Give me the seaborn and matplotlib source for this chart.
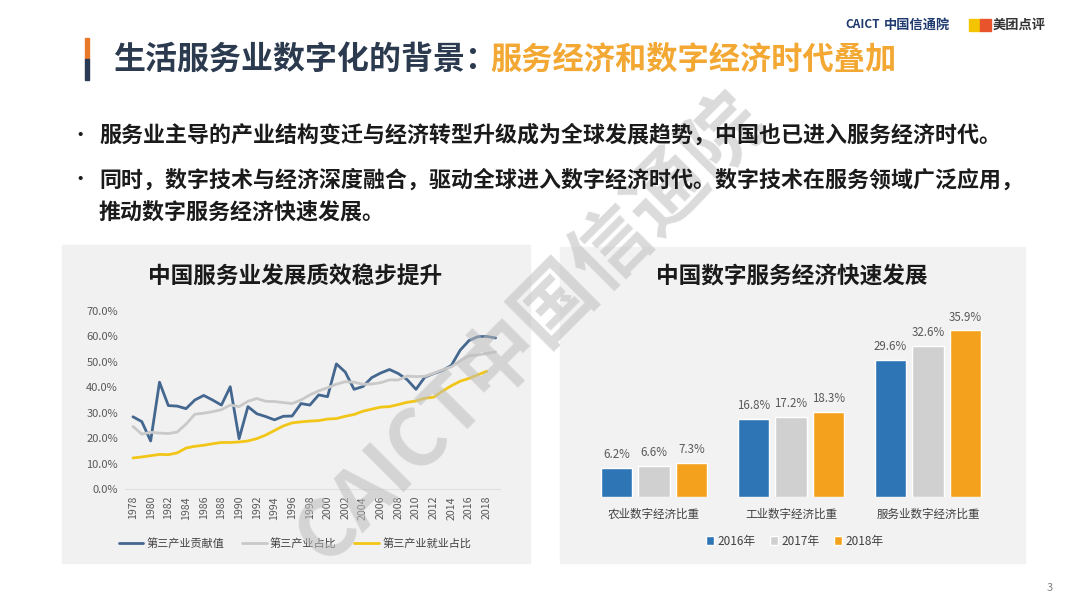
import pandas as pd
import matplotlib.pyplot as plt
import seaborn as sns
from matplotlib.patches import Rectangle
from matplotlib.ticker import PercentFormatter

sns.set_style('white')
plt.rcParams['font.family'] = ['Noto Sans CJK SC', 'DejaVu Sans']

#Left chart data (percent)
years = list(range(1978, 2020))
contribution = [28.4, 26.5, 18.9, 42.0, 32.8, 32.6, 31.6, 35.0, 36.8, 35.0, 33.0, 40.2, 19.8, 32.4,
                29.6, 28.5, 27.2, 28.6, 28.7, 33.6, 33.0, 37.0, 36.3, 49.2, 46.0, 39.2, 40.3, 43.8,
                45.6, 47.0, 45.4, 43.0, 39.2, 44.0, 45.4, 46.6, 48.6, 54.6, 58.4, 59.9, 60.0, 59.4]
share = [24.6, 21.6, 22.3, 22.0, 21.8, 22.4, 25.5, 29.4, 29.8, 30.4, 31.2, 33.0, 32.4, 34.5,
         35.6, 34.5, 34.4, 34.0, 33.6, 35.0, 37.0, 38.6, 39.8, 41.2, 42.2, 42.0, 41.2, 41.3,
         41.8, 42.9, 42.9, 44.4, 44.2, 44.3, 45.5, 46.9, 48.0, 50.5, 52.4, 52.7, 53.3, 53.9]
employment = [12.2, 12.6, 13.1, 13.6, 13.5, 14.2, 16.1, 16.8, 17.2, 17.8, 18.3, 18.3, 18.5, 18.9,
              19.8, 21.2, 23.0, 24.8, 26.0, 26.4, 26.7, 26.9, 27.5, 27.7, 28.6, 29.3, 30.6, 31.4,
              32.2, 32.4, 33.2, 34.1, 34.6, 35.7, 36.1, 38.5, 40.6, 42.4, 43.5, 44.9, 46.3]
line_names = ['第三产业贡献值', '第三产业占比', '第三产业就业占比']

#Right chart data (percent)
categories = ['农业数字经济比重', '工业数字经济比重', '服务业数字经济比重']
bar_years = ['2016年', '2017年', '2018年']
v2016 = [6.2, 16.8, 29.6]
v2017 = [6.6, 17.2, 32.6]
v2018 = [7.3, 18.3, 35.9]

W, H = 1080, 608
fig = plt.figure(figsize=(W / 100, H / 100), dpi=100)
fig.patch.set_facecolor('white')

def fx(px):
    return px / W

def fy(py):
    return 1 - py / H

#Header
fig.patches.append(Rectangle((fx(85), fy(59)), fx(4), 21 / H, transform=fig.transFigure, color='#e8792b'))
fig.patches.append(Rectangle((fx(85), fy(80)), fx(4), 21 / H, transform=fig.transFigure, color='#2b3a55'))
fig.text(fx(113), fy(60), '生活服务业数字化的背景：', fontsize=23, weight='bold', color='#2b3a4e', va='center')
fig.text(fx(490), fy(60), '服务经济和数字经济时代叠加', fontsize=22.5, weight='bold', color='#f2a833', va='center')

fig.text(fx(845), fy(25), 'CAICT', fontsize=8.5, weight='bold', color='#1f3a6e', va='center')
fig.text(fx(884), fy(25), '中国信通院', fontsize=9.5, weight='bold', color='#1f3a6e', va='center')
fig.patches.append(Rectangle((fx(969), fy(31)), fx(11), 12 / H, transform=fig.transFigure, color='#f5c400'))
fig.patches.append(Rectangle((fx(980), fy(31)), fx(11), 12 / H, transform=fig.transFigure, color='#e8552c'))
fig.text(fx(993), fy(25), '美团点评', fontsize=9.5, weight='bold', color='#333333', va='center')

#Bullets
bullets = [(135, '服务业主导的产业结构变迁与经济转型升级成为全球发展趋势，中国也已进入服务经济时代。'),
           (180, '同时，数字技术与经济深度融合，驱动全球进入数字经济时代。数字技术在服务领域广泛应用，')]
for y, txt in bullets:
    fig.text(fx(70), fy(y), '•', fontsize=14, color='#1a1a1a', va='center')
    fig.text(fx(99), fy(y), txt, fontsize=15.8, weight='bold', color='#1a1a1a', va='center')
fig.text(fx(99), fy(212), '推动数字服务经济快速发展。', fontsize=15.8, weight='bold', color='#1a1a1a', va='center')

#Panel backgrounds (behind the axes)
fig.patches.append(Rectangle((fx(62), fy(563)), fx(468), 318 / H, transform=fig.transFigure, color='#f1f1f1', zorder=-2))
fig.patches.append(Rectangle((fx(560), fy(563)), fx(465), 316 / H, transform=fig.transFigure, color='#f2f2f2', zorder=-2))

fig.text(fx(295), fy(276), '中国服务业发展质效稳步提升', fontsize=16.3, weight='bold', color='#1a1a1a', ha='center', va='center')
fig.text(fx(792), fy(277), '中国数字服务经济快速发展', fontsize=16.3, weight='bold', color='#1a1a1a', ha='center', va='center')

#Left line chart
ax1 = fig.add_axes([fx(125), fy(489), fx(375), 178 / H])
ax1.set_facecolor('none')
line_colors = ['#44678f', '#c9c9c9', '#f2c618']
sns.lineplot(x=years, y=contribution, ax=ax1, color=line_colors[0], linewidth=2, label=line_names[0])
sns.lineplot(x=years, y=share, ax=ax1, color=line_colors[1], linewidth=2, label=line_names[1])
sns.lineplot(x=years[:len(employment)], y=employment, ax=ax1, color=line_colors[2], linewidth=2, label=line_names[2])
ax1.set_xlim(1977.1, 2019.5)
ax1.set_ylim(0, 70)
ax1.set_yticks(range(0, 71, 10))
ax1.yaxis.set_major_formatter(PercentFormatter(decimals=1))
ax1.set_xticks(range(1978, 2019, 2))
ax1.tick_params(axis='x', labelrotation=90, labelsize=7.6, colors='#595959', length=0, pad=5)
ax1.tick_params(axis='y', labelsize=8, colors='#595959', length=0, pad=5)
for s in ['top', 'right', 'left']:
    ax1.spines[s].set_visible(False)
ax1.spines['bottom'].set_color('#e0e0e0')
ax1.set_xlabel('')
ax1.set_ylabel('')
ax1.legend(loc='center', bbox_to_anchor=(fx(295), fy(543)), bbox_transform=fig.transFigure, ncol=3,
           frameon=False, fontsize=8, handlelength=2.2, columnspacing=1.6, handletextpad=0.3,
           labelcolor='#404040')

#Right bar chart
bars = pd.DataFrame({
    'category': categories * 3,
    'year': [bar_years[0]] * 3 + [bar_years[1]] * 3 + [bar_years[2]] * 3,
    'value': v2016 + v2017 + v2018,
})
ax2 = fig.add_axes([fx(585.5), fy(497), fx(411), 167 / H])
ax2.set_facecolor('none')
sns.barplot(data=bars, x='category', y='value', hue='year', ax=ax2,
            palette=['#2e75b6', '#d0d0d0', '#f4a21d'], width=0.82, gap=0.17, saturation=1)
for c in ax2.containers:
    ax2.bar_label(c, fmt='%.1f%%', padding=5, fontsize=8.3, color='#595959')
ax2.set_xlim(-0.5, 2.5)
ax2.set_ylim(0, 36)
ax2.set_yticks([])
ax2.set_xlabel('')
ax2.set_ylabel('')
ax2.tick_params(axis='x', labelsize=8.3, colors='#404040', length=0, pad=8)
for s in ax2.spines.values():
    s.set_visible(False)
ax2.legend(loc='center', bbox_to_anchor=(fx(795), fy(541)), bbox_transform=fig.transFigure, ncol=3,
           frameon=False, fontsize=8.5, handlelength=0.7, handleheight=0.7, columnspacing=1.2,
           handletextpad=0.3, labelcolor='#404040')

#Watermark: above the charts, below the slide text
fig.text(fx(530), fy(328), 'CAICT中国信通院', fontsize=57, weight='bold', color='#bdbdbd', alpha=0.55,
         rotation=45, ha='center', va='center', rotation_mode='anchor', zorder=1)

fig.text(fx(1050), fy(588), '3', fontsize=8, color='#7f7f7f', ha='center', va='center')

plt.savefig('out.png', dpi=100)
